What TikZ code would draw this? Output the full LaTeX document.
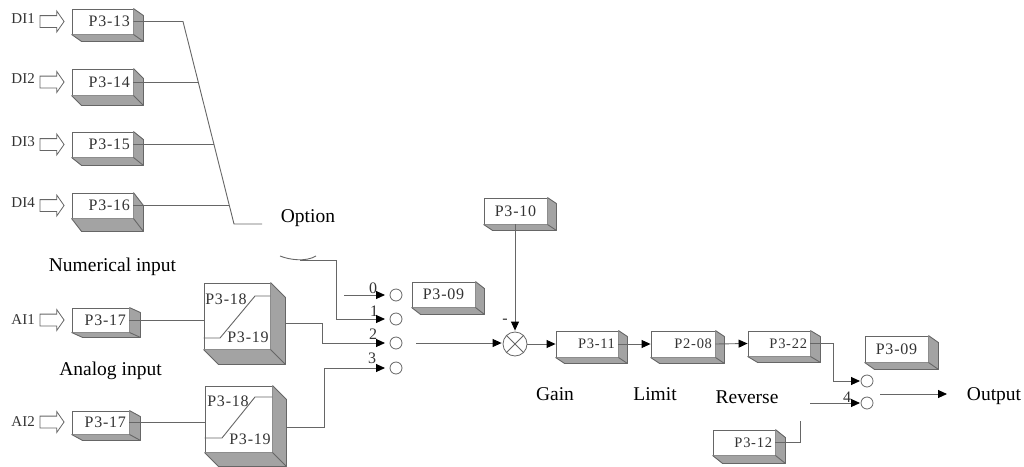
\documentclass[tikz,border=0pt]{standalone}
\usepackage{fontspec}
\setmainfont{Liberation Serif}
\newfontfamily\boxfont[LetterSpace=5]{Liberation Serif}
\usetikzlibrary{calc,arrows.meta,shapes.arrows}

\definecolor{wiregray}{HTML}{666666}
\definecolor{facegray}{HTML}{A3A3A3}
\definecolor{inkgray}{HTML}{333333}

\tikzset{
  wire/.style={draw=wiregray, line width=0.9pt},
  wirearrow/.style={wire, -{Triangle[length=9pt,width=8pt,black]}, shorten >=5pt},
  pbox/.style={draw=wiregray, fill=white, line width=0.9pt, inner sep=3pt, anchor=center,
    text=inkgray, font=\fontsize{16}{18}\boxfont},
  pright/.style={align=right},
  pmid/.style={align=center},
  psmall/.style={font=\fontsize{14.5}{17}\boxfont},
  inarrow/.style={draw=wiregray, fill=white, single arrow, line width=0.8pt, inner sep=5.5pt,
    minimum height=24pt, single arrow head extend=4.5pt, single arrow tip angle=110},
  tap/.style={circle, draw=wiregray, fill=white, line width=0.8pt, minimum size=12pt, inner sep=0pt},
  caption/.style={font=\fontsize{19.5}{22}\selectfont, text=black},
  inlabel/.style={font=\fontsize{15}{17}\selectfont, text=inkgray},
  tapnum/.style={font=\fontsize{16}{18}\selectfont, text=inkgray, inner sep=0pt},
}

% name, left, top, right, bottom, depth x, depth y, text
\newcommand{\pbox}[9][pmid]{
  \node[pbox, #1, minimum width={(#5-#3)*1pt}, minimum height={(#6-#4)*1pt},
        text width={(#5-#3-6)*1pt}] (#2) at ({(#3+#5)/2},{(#4+#6)/2}) {#9};
  \fill[facegray] (#2.south west) -- (#2.south east) -- ($(#2.north east)+(0,0)$)
     -- ($(#2.north east)+(#7,#8)$) -- ($(#2.south east)+(#7,#8)$) -- ($(#2.south west)+(#7,#8)$) -- cycle;
  \draw[wiregray, line width=0.9pt, line join=round] (#2.north east) -- ($(#2.north east)+(#7,#8)$)
     -- ($(#2.south east)+(#7,#8)$) -- ($(#2.south west)+(#7,#8)$) -- (#2.south west);
  \draw[wiregray, line width=0.9pt] (#2.south east) -- ($(#2.south east)+(#7,#8)$);
}

\begin{document}
\begin{tikzpicture}[x=1pt, y=-1pt]
  \useasboundingbox (0,0) rectangle (1024,466);

  % ---------- digital inputs ----------
  \foreach \n/\ya/\yb/\dep/\jx/\code in {1/9/34/7/183/13, 2/69/95/10/198/14, 3/132/157/8/214/15, 4/193/218/13/229/16}{
    \pbox[pright]{pf\n}{72}{\ya}{133}{\yb}{10}{\dep}{P3-\code}
    \node[inarrow] (di\n) at (50,{(\ya+\yb)/2}) {};
    \node[inlabel, anchor=east, inner sep=0pt] (dilabel\n) at (35,{(\ya+\yb)/2-3}) {DI\n};
    \coordinate (join\n) at (\jx,{(\ya+\yb)/2});
  }
  \coordinate (optjoin) at (234,224);
  \coordinate (optend) at (262,224);
  \draw[wire] (pf1.east) -- (join1) -- (optjoin) -- (optend);
  \foreach \n in {2,3,4}{
    \draw[wire] (pf\n.east) -- (join\n);
  }

  \node[caption] (option) at (308,218) {Option};
  \node[caption] (numeric) at (112.5,267) {Numerical input};
  \node[caption] (analog) at (110.5,371) {Analog input};

  % ---------- switch contacts ----------
  \node[tap] (tap0) at (396,295) {};
  \node[tap] (tap1) at (396,319) {};
  \node[tap] (tap2) at (396,343) {};
  \node[tap] (tap3) at (396,368) {};
  \node[tapnum] (num0) at (373,288) {0};
  \node[tapnum] (num1) at (374,311) {1};
  \node[tapnum] (num2) at (373,334) {2};
  \node[tapnum] (num3) at (372,358) {3};
  \pbox{psel}{412}{282}{475}{307}{9}{7}{P3-09}

  % ---------- analog inputs ----------
  \node[inarrow] (ai1) at (50,320) {};
  \node[inlabel, anchor=east, inner sep=0pt] (ailabel1) at (35,320) {AI1};
  \pbox[pright]{pa1}{72}{308}{129}{332}{11}{5}{P3-17}
  \pbox{cur1}{204}{283}{270}{349}{15}{15}{}
  \node[tapnum] (lo1) at (226,299) {\boxfont P3-18};
  \node[tapnum] (hi1) at (248,337) {\boxfont P3-19};
  \draw[wire] (cur1.west |- 0,338) -- (220,338) -- (255,296) -- (cur1.east |- 0,296);
  \draw[wire] (pa1.east) -- (cur1.west |- pa1.east);

  \node[inarrow] (ai2) at (50,422) {};
  \node[inlabel, anchor=east, inner sep=0pt] (ailabel2) at (35,422) {AI2};
  \pbox[pright]{pa2}{72}{411}{129}{434}{11}{6}{P3-17}
  \pbox{cur2}{205}{386}{272}{452}{14}{14}{}
  \node[tapnum] (lo2) at (228,401) {\boxfont P3-18};
  \node[tapnum] (hi2) at (250,439) {\boxfont P3-19};
  \draw[wire] (cur2.west |- 0,438) -- (222,438) -- (255,397) -- (cur2.east |- 0,397);
  \draw[wire] (pa2.east) -- (cur2.west |- pa2.east);

  % ---------- wires into the contacts ----------
  \coordinate (stub0) at (344,295);
  \coordinate (curvemid) at (300,260);
  \draw[wirearrow, shorten >=11pt] (stub0) -- (tap0.center);
  \draw[wire] (280,256) .. controls (290,260) and (306,262) .. (316,256);
  \draw[wire] (curvemid) -- (336,260) -- (336,319);
  \draw[wirearrow, shorten >=11pt] (336,319) -- (tap1.center);
  \draw[wire] (285,323) -- (322,323) -- (322,343);
  \draw[wirearrow, shorten >=11pt] (322,343) -- (tap2.center);
  \draw[wire] (286,427) -- (324,427) -- (324,368);
  \draw[wirearrow, shorten >=11pt] (324,368) -- (tap3.center);

  % ---------- main line ----------
  \node[tap, minimum size=24pt] (sum) at (515,344) {};
  \draw[wiregray, line width=0.8pt] (sum.north west) -- (sum.south east);
  \draw[wiregray, line width=0.8pt] (sum.north east) -- (sum.south west);
  \node[tapnum] (minus) at (505,321) {-};
  \pbox{pset}{484}{198}{547}{224}{9}{6}{P3-10}
  \pbox[pright,psmall]{pgain}{556}{331}{618}{357}{9}{6}{P3-11}
  \pbox[pright,psmall]{plimit}{651}{331}{715}{357}{9}{6}{P2-08}
  \pbox[pright,psmall]{prev}{748}{331}{810}{356}{10}{6}{P3-22}
  \coordinate (mainin) at (416,343);
  \draw[wirearrow, shorten >=1pt] (pset.south -| sum) -- (sum.north);
  \draw[wirearrow, shorten >=1pt] (mainin) -- (sum.west |- mainin);
  \draw[wirearrow, shorten >=0pt] (sum.east) -- (pgain.west);
  \draw[wirearrow, shorten >=0pt] (pgain.east) -- (plimit.west);
  \draw[wirearrow, shorten >=0pt] (plimit.east) -- (prev.west);

  \node[caption] (gain) at (555,394) {Gain};
  \node[caption] (limit) at (655,394) {Limit};
  \node[caption] (reverse) at (747,397) {Reverse};

  % ---------- output switch ----------
  \node[tap] (tap4) at (867,381) {};
  \node[tap] (tap5) at (867,403) {};
  \node[tapnum] (num4) at (847,397) {4};
  \pbox{psel2}{865}{336}{928}{362}{10}{7}{P3-09}
  \pbox[pright,psmall]{prefset}{713}{430}{775}{455}{10}{8}{P3-12}
  \coordinate (stub5) at (810,403);
  \coordinate (outstart) at (880,394);
  \coordinate (outend) at (952,394);
  \coordinate (refstub) at (800,421);
  \draw[wire] (prev.east) -- (833,343.5) -- (833,381);
  \draw[wirearrow, shorten >=7pt] (833,381) -- (tap4.center);
  \draw[wirearrow, shorten >=7pt] (stub5) -- (tap5.center);
  \draw[wire] (prefset.east) -- (800,442.5) -- (refstub);
  \draw[wirearrow] (outstart) -- (outend);
  \node[caption] (output) at (994,396) {Output};

\end{tikzpicture}
\end{document}
